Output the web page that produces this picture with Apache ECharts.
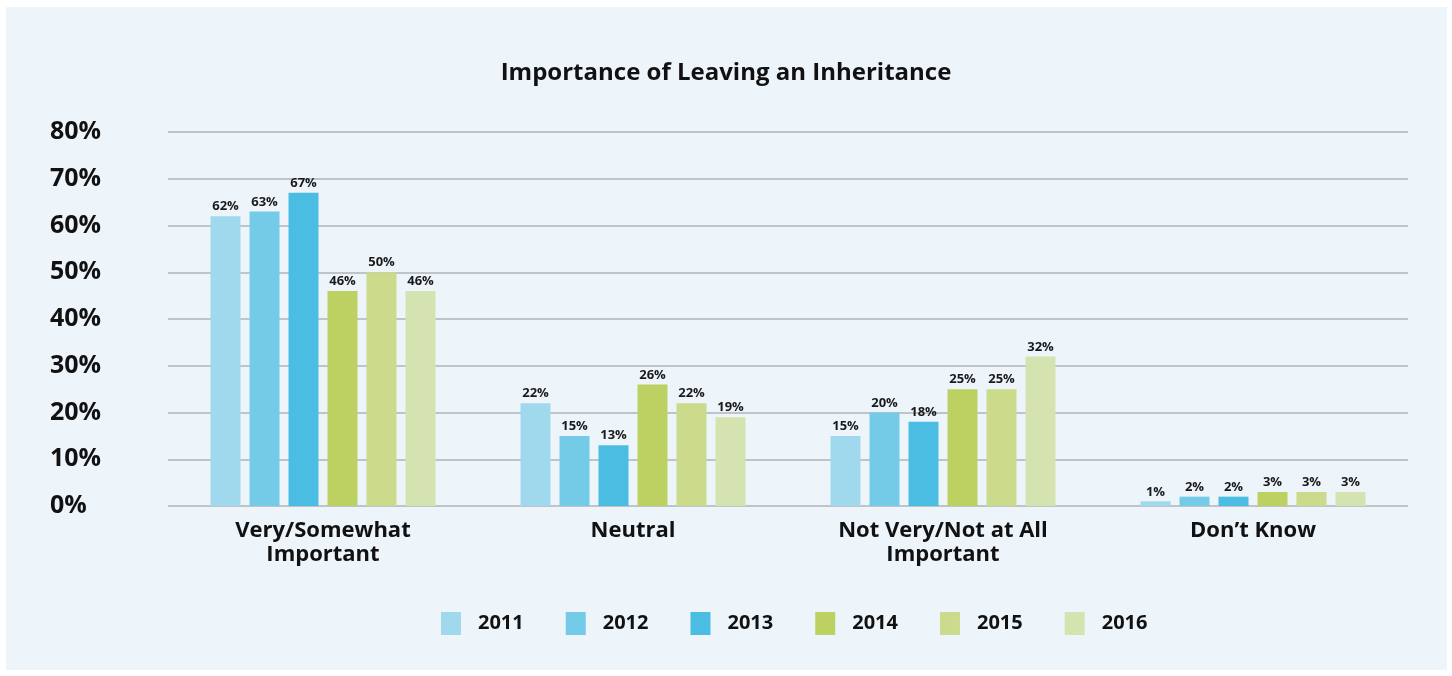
<!DOCTYPE html>
<html>
<head>
<meta charset="utf-8">
<script src="https://cdn.jsdelivr.net/npm/echarts@6/dist/echarts.min.js"></script>
<style>
  html, body { margin: 0; padding: 0; background: #fff; }
  #main { width: 1452px; height: 676px; }
</style>
</head>
<body>
<div id="main"></div>
<script>
var categories = ["Very/Somewhat\nImportant", "Neutral", "Not Very/Not at All\nImportant", "Don\u2019t Know"];
var years = ["2011", "2012", "2013", "2014", "2015", "2016"];
var v2011 = [62, 22, 15, 1];
var v2012 = [63, 15, 20, 2];
var v2013 = [67, 13, 18, 2];
var v2014 = [46, 26, 25, 3];
var v2015 = [50, 22, 25, 3];
var v2016 = [46, 19, 32, 3];
var yTicks = [0, 10, 20, 30, 40, 50, 60, 70, 80];

var colors = ["#a0d9ee", "#74cbe8", "#4bbde2", "#bdd162", "#cbdb8b", "#d5e3b0"];
var values = [v2011, v2012, v2013, v2014, v2015, v2016];
var font = "'Open Sans', Lato, sans-serif";

var chart = echarts.init(document.getElementById("main"));

var series = years.map(function (y, i) {
    return {
        name: y,
        type: 'bar',
        barWidth: 30,
        barGap: '30%',
        data: values[i],
        itemStyle: { color: colors[i] },
        label: {
            show: true,
            position: 'top',
            distance: 3,
            formatter: '{c}%',
            fontFamily: font,
            fontWeight: 'bold',
            fontSize: 13,
            color: '#1a1a1a'
        }
    };
});

chart.setOption({
    color: colors,
    animation: false,
    graphic: [{
        type: 'rect',
        z: -10,
        silent: true,
        shape: { x: 6, y: 7, width: 1441, height: 663 },
        style: { fill: '#edf4fa' }
    }],
    title: {
        text: 'Importance of Leaving an Inheritance',
        left: 'center',
        top: 56,
        textStyle: { fontFamily: font, fontWeight: 'bold', fontSize: 24, color: '#111' }
    },
    legend: {
        data: years,
        left: 436,
        top: 607,
        icon: 'rect',
        itemWidth: 20,
        itemHeight: 23,
        itemGap: 42,
        textStyle: {
            fontFamily: font, fontWeight: 'bold', fontSize: 20, color: '#111',
            width: 44, padding: [0, 0, 0, 12]
        }
    },
    grid: { left: 168, right: 44, top: 132, bottom: 170 },
    xAxis: {
        type: 'category',
        data: categories,
        axisLine: { show: false },
        axisTick: { show: false },
        axisLabel: {
            margin: 13,
            fontFamily: font, fontWeight: 'bold', fontSize: 22, color: '#111',
            lineHeight: 24
        }
    },
    yAxis: {
        type: 'value',
        min: yTicks[0],
        max: yTicks[yTicks.length - 1],
        interval: 10,
        axisLine: { show: false },
        axisTick: { show: false },
        splitLine: { lineStyle: { color: '#bfc4c8', width: 2 } },
        axisLabel: {
            formatter: '{value}%',
            align: 'left',
            margin: 118,
            fontFamily: font, fontWeight: 'bold', fontSize: 25, color: '#111'
        }
    },
    series: series
});
</script>
</body>
</html>
